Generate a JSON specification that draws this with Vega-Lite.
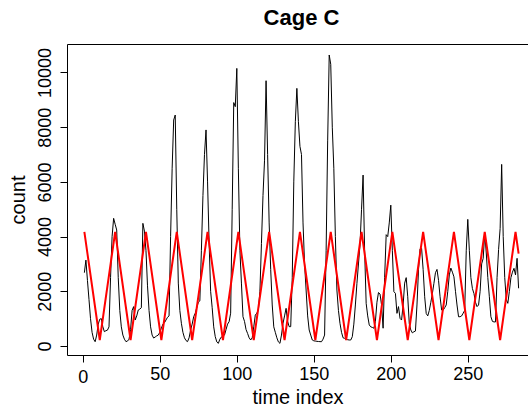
{
  "$schema": "https://vega.github.io/schema/vega-lite/v6.json",
  "width": 461,
  "height": 311,
  "autosize": {"type": "none"},
  "padding": {"left": 67, "top": 44, "right": 0, "bottom": 53},
  "background": "white",
  "title": {"text": "Cage C", "fontSize": 22, "fontWeight": "bold", "font": "Liberation Sans", "color": "black", "anchor": "middle", "dx": 4, "offset": 14},
  "config": {
    "view": {"stroke": null},
    "font": "Liberation Sans",
    "axis": {"grid": false, "domainColor": "black", "tickColor": "black", "labelColor": "black", "titleColor": "black", "tickSize": 7, "labelFontSize": 18, "titleFontSize": 20, "titleFontWeight": "normal", "labelFont": "Liberation Sans", "titleFont": "Liberation Sans"}
  },
  "datasets": {
    "obs": [
      {"t":1,"v":2680},{"t":2,"v":3140},{"t":3,"v":2400},{"t":4,"v":1700},{"t":5,"v":1000},{"t":6,"v":500},{"t":7,"v":250},{"t":8,"v":157},{"t":9,"v":400},{"t":10,"v":800},
      {"t":11,"v":980},{"t":12,"v":1000},{"t":13,"v":700},{"t":14,"v":523},{"t":15,"v":560},{"t":16,"v":580},{"t":17,"v":700},{"t":18,"v":2500},{"t":19,"v":4000},{"t":20,"v":4668},
      {"t":21,"v":4450},{"t":22,"v":4241},{"t":23,"v":2500},{"t":24,"v":1300},{"t":25,"v":700},{"t":26,"v":400},{"t":27,"v":250},{"t":28,"v":160},{"t":29,"v":180},{"t":30,"v":250},
      {"t":31,"v":600},{"t":32,"v":1300},{"t":33,"v":1440},{"t":34,"v":950},{"t":35,"v":1100},{"t":36,"v":1315},{"t":37,"v":1350},{"t":38,"v":1400},{"t":39,"v":4485},{"t":40,"v":4200},
      {"t":41,"v":3500},{"t":42,"v":2200},{"t":43,"v":1300},{"t":44,"v":700},{"t":45,"v":400},{"t":46,"v":290},{"t":47,"v":330},{"t":48,"v":370},{"t":49,"v":400},{"t":50,"v":500},
      {"t":51,"v":650},{"t":52,"v":800},{"t":53,"v":850},{"t":54,"v":950},{"t":55,"v":1050},{"t":56,"v":1100},{"t":57,"v":4000},{"t":58,"v":6500},{"t":59,"v":8263},{"t":60,"v":8445},
      {"t":61,"v":5000},{"t":62,"v":2300},{"t":63,"v":1300},{"t":64,"v":830},{"t":65,"v":500},{"t":66,"v":300},{"t":67,"v":200},{"t":68,"v":160},{"t":69,"v":300},{"t":70,"v":585},
      {"t":71,"v":800},{"t":72,"v":1072},{"t":73,"v":1200},{"t":74,"v":1400},{"t":75,"v":1600},{"t":76,"v":1650},{"t":77,"v":3500},{"t":78,"v":5500},{"t":79,"v":7000},{"t":80,"v":7900},
      {"t":81,"v":6000},{"t":82,"v":3800},{"t":83,"v":2000},{"t":84,"v":1400},{"t":85,"v":700},{"t":86,"v":340},{"t":87,"v":150},{"t":88,"v":97},{"t":89,"v":250},{"t":90,"v":330},
      {"t":91,"v":380},{"t":92,"v":400},{"t":93,"v":600},{"t":94,"v":800},{"t":95,"v":890},{"t":96,"v":1200},{"t":97,"v":5000},{"t":98,"v":8900},{"t":99,"v":8750},{"t":100,"v":10150},
      {"t":101,"v":6500},{"t":102,"v":3500},{"t":103,"v":2300},{"t":104,"v":1072},{"t":105,"v":900},{"t":106,"v":600},{"t":107,"v":460},{"t":108,"v":300},{"t":109,"v":220},{"t":110,"v":300},
      {"t":111,"v":700},{"t":112,"v":1130},{"t":113,"v":1200},{"t":114,"v":1315},{"t":115,"v":2000},{"t":116,"v":3750},{"t":117,"v":5500},{"t":118,"v":6795},{"t":119,"v":9700},{"t":120,"v":7000},
      {"t":121,"v":4500},{"t":122,"v":2800},{"t":123,"v":1500},{"t":124,"v":700},{"t":125,"v":500},{"t":126,"v":300},{"t":127,"v":150},{"t":128,"v":97},{"t":129,"v":400},{"t":130,"v":830},
      {"t":131,"v":1100},{"t":132,"v":1377},{"t":133,"v":900},{"t":134,"v":707},{"t":135,"v":707},{"t":136,"v":2500},{"t":137,"v":6000},{"t":138,"v":8200},{"t":139,"v":9420},{"t":140,"v":8200},
      {"t":141,"v":7300},{"t":142,"v":7000},{"t":143,"v":4500},{"t":144,"v":3000},{"t":145,"v":2047},{"t":146,"v":1100},{"t":147,"v":585},{"t":148,"v":400},{"t":149,"v":220},{"t":150,"v":190},
      {"t":151,"v":180},{"t":152,"v":170},{"t":153,"v":165},{"t":154,"v":160},{"t":155,"v":157},{"t":156,"v":250},{"t":157,"v":400},{"t":158,"v":3500},{"t":159,"v":7500},{"t":160,"v":10640},
      {"t":161,"v":10300},{"t":162,"v":8000},{"t":163,"v":6500},{"t":164,"v":4000},{"t":165,"v":2047},{"t":166,"v":1300},{"t":167,"v":830},{"t":168,"v":500},{"t":169,"v":300},{"t":170,"v":280},
      {"t":171,"v":250},{"t":172,"v":230},{"t":173,"v":220},{"t":174,"v":220},{"t":175,"v":340},{"t":176,"v":800},{"t":177,"v":1500},{"t":178,"v":2290},{"t":179,"v":3000},{"t":180,"v":3700},
      {"t":181,"v":5000},{"t":182,"v":6250},{"t":183,"v":3500},{"t":184,"v":1560},{"t":185,"v":1100},{"t":186,"v":770},{"t":187,"v":700},{"t":188,"v":680},{"t":189,"v":650},{"t":190,"v":900},
      {"t":191,"v":1600},{"t":192,"v":1955},{"t":193,"v":1900},{"t":194,"v":1500},{"t":195,"v":650},{"t":196,"v":2500},{"t":197,"v":4070},{"t":198,"v":4000},{"t":199,"v":4500},{"t":200,"v":5150},
      {"t":201,"v":3500},{"t":202,"v":1987},{"t":203,"v":1925},{"t":204,"v":1194},{"t":205,"v":1440},{"t":206,"v":1010},{"t":207,"v":950},{"t":208,"v":1500},{"t":209,"v":2300},{"t":210,"v":2500},
      {"t":211,"v":1800},{"t":212,"v":816},{"t":213,"v":585},{"t":214,"v":480},{"t":215,"v":520},{"t":216,"v":546},{"t":217,"v":1500},{"t":218,"v":2800},{"t":219,"v":3550},{"t":220,"v":3570},
      {"t":221,"v":2800},{"t":222,"v":1800},{"t":223,"v":1190},{"t":224,"v":1100},{"t":225,"v":1300},{"t":226,"v":1600},{"t":227,"v":1920},{"t":228,"v":2290},{"t":229,"v":2680},{"t":230,"v":2800},
      {"t":231,"v":2400},{"t":232,"v":1800},{"t":233,"v":1315},{"t":234,"v":1310},{"t":235,"v":1400},{"t":236,"v":1500},{"t":237,"v":2000},{"t":238,"v":2600},{"t":239,"v":2850},{"t":240,"v":2700},
      {"t":241,"v":2530},{"t":242,"v":2000},{"t":243,"v":1500},{"t":244,"v":1070},{"t":245,"v":1070},{"t":246,"v":1100},{"t":247,"v":1200},{"t":248,"v":1300},{"t":249,"v":3500},{"t":250,"v":4630},
      {"t":251,"v":3500},{"t":252,"v":2500},{"t":253,"v":2100},{"t":254,"v":1920},{"t":255,"v":1600},{"t":256,"v":1440},{"t":257,"v":1500},{"t":258,"v":2000},{"t":259,"v":3000},{"t":260,"v":3206},
      {"t":261,"v":4120},{"t":262,"v":3400},{"t":263,"v":2500},{"t":264,"v":1800},{"t":265,"v":1070},{"t":266,"v":900},{"t":267,"v":880},{"t":268,"v":880},{"t":269,"v":2500},{"t":270,"v":3530},
      {"t":271,"v":4300},{"t":272,"v":6640},{"t":273,"v":4000},{"t":274,"v":2500},{"t":275,"v":1700},{"t":276,"v":1560},{"t":277,"v":2000},{"t":278,"v":2500},{"t":279,"v":2700},{"t":280,"v":2840},
      {"t":281,"v":2600},{"t":282,"v":3206},{"t":283,"v":2110}
    ],
    "fit": [
      {"t":1,"v":4170},{"t":11,"v":220},{"t":21,"v":4170},{"t":31,"v":220},{"t":41,"v":4170},{"t":51,"v":220},
      {"t":61,"v":4170},{"t":71,"v":220},{"t":81,"v":4170},{"t":91,"v":220},{"t":101,"v":4170},{"t":111,"v":220},
      {"t":121,"v":4170},{"t":131,"v":220},{"t":141,"v":4170},{"t":151,"v":220},{"t":161,"v":4170},{"t":171,"v":220},
      {"t":181,"v":4170},{"t":191,"v":220},{"t":201,"v":4170},{"t":211,"v":220},{"t":221,"v":4170},{"t":231,"v":220},
      {"t":241,"v":4170},{"t":251,"v":220},{"t":261,"v":4170},{"t":271,"v":220},{"t":281,"v":4170},{"t":283,"v":3380}
    ]
  },
  "layer": [
    {
      "data": {"name": "obs"},
      "mark": {"type": "line", "color": "black", "strokeWidth": 1},
      "encoding": {
        "x": {"field": "t", "type": "quantitative", "scale": {"domain": [-10.28, 289.1], "nice": false, "zero": false},
              "axis": {"orient": "bottom", "values": [0, 50, 100, 150, 200, 250], "title": "time index", "labelPadding": {"condition": {"test": "datum.value === 0", "value": 6}, "value": 3}, "titlePadding": 1, "labelFlush": false}},
        "y": {"field": "v", "type": "quantitative", "scale": {"domain": [-329, 11042], "nice": false, "zero": false},
              "axis": {"values": [0, 2000, 4000, 6000, 8000, 10000], "title": "count", "labelAngle": -90, "labelAlign": "center", "labelBaseline": "bottom", "labelPadding": 6, "titlePadding": 8, "labelFlush": false, "format": "d"}}
      }
    },
    {
      "data": {"name": "fit"},
      "mark": {"type": "line", "color": "#ff0000", "strokeWidth": 2},
      "encoding": {
        "x": {"field": "t", "type": "quantitative", "axis": {"orient": "top", "labels": false, "ticks": false, "title": null, "domain": true}},
        "y": {"field": "v", "type": "quantitative"}
      }
    }
  ],
  "resolve": {"axis": {"x": "independent"}}
}
